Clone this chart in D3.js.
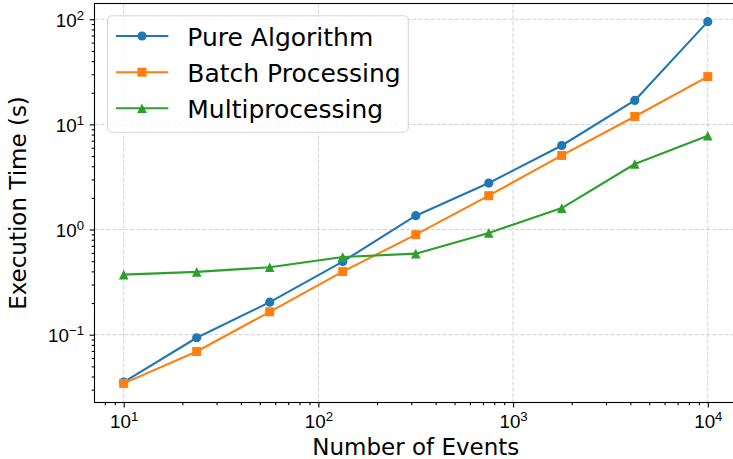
<!DOCTYPE html>
<html>
<head>
<meta charset="utf-8">
<script src="https://cdn.jsdelivr.net/npm/d3@7"></script>
<style>
  html, body { margin: 0; padding: 0; background: #fff; }
  svg { display: block; font-family: "DejaVu Sans", sans-serif; }
</style>
</head>
<body>
<svg id="chart" width="733" height="459"></svg>
<script>
// Problem sizes (number of events) and measured execution times in seconds
const events = [10, 23.71, 56.23, 133.35, 316.23, 749.89, 1778.28, 4216.97, 10000];
const pureAlgorithm   = [0.0354, 0.0935, 0.204, 0.496, 1.355, 2.77, 6.30, 16.9, 94.9];
const batchProcessing = [0.0344, 0.0692, 0.165, 0.398, 0.895, 2.10, 5.07, 11.9, 28.5];
const multiprocessing = [0.373, 0.396, 0.438, 0.549, 0.590, 0.929, 1.60, 4.20, 7.79];

const seriesNames = ["Pure Algorithm", "Batch Processing", "Multiprocessing"];
const seriesColors = ["#1f77b4", "#ff7f0e", "#2ca02c"];
const seriesMarkers = ["circle", "square", "triangle"];

const xTickValues = [10, 100, 1000, 10000];
const xTickExponents = ["1", "2", "3", "4"];
const yTickValues = [0.1, 1, 10, 100];
const yTickExponents = ["\u22121", "0", "1", "2"];

const xLabel = "Number of Events";
const yLabel = "Execution Time (s)";

// Plot frame
const plotLeft = 94.5, plotRight = 737, plotTop = 3.5, plotBottom = 402.5;

const svg = d3.select("#chart");

const x = d3.scaleLog()
  .domain([Math.pow(10, 0.85), Math.pow(10, 4.15)])
  .range([plotLeft, plotRight]);
const y = d3.scaleLog()
  .domain([Math.pow(10, -1.645), Math.pow(10, 2.15)])
  .range([plotBottom, plotTop]);

function minorTicks(scale) {
  const [a, b] = scale.domain();
  const out = [];
  for (let e = Math.floor(Math.log10(a)); e <= Math.ceil(Math.log10(b)); e++) {
    for (let m = 2; m <= 9; m++) {
      const v = m * Math.pow(10, e);
      if (v >= a && v <= b) out.push(v);
    }
  }
  return out;
}

// Grid (major ticks only, dashed)
const grid = svg.append("g").attr("class", "grid");
grid.selectAll("line.gx").data(xTickValues).join("line").attr("class", "gx")
  .attr("x1", d => x(d)).attr("x2", d => x(d))
  .attr("y1", plotTop).attr("y2", plotBottom);
grid.selectAll("line.gy").data(yTickValues).join("line").attr("class", "gy")
  .attr("x1", plotLeft).attr("x2", plotRight)
  .attr("y1", d => y(d)).attr("y2", d => y(d));
grid.selectAll("line")
  .attr("stroke", "#b0b0b0").attr("stroke-opacity", 0.6)
  .attr("stroke-width", 1).attr("stroke-dasharray", "4,2");

// Series lines and markers
const lineGen = d3.line().x(d => x(d[0])).y(d => y(d[1]));
const allSeries = [pureAlgorithm, batchProcessing, multiprocessing];

function drawMarker(g, type, cx, cy, color) {
  if (type === "circle") {
    g.append("circle").attr("cx", cx).attr("cy", cy).attr("r", 4.6).attr("fill", color);
  } else if (type === "square") {
    const s = 9;
    g.append("rect").attr("x", cx - s / 2).attr("y", cy - s / 2)
      .attr("width", s).attr("height", s).attr("fill", color);
  } else {
    const h = 4.8;
    g.append("path")
      .attr("d", `M${cx},${cy - h}L${cx + h},${cy + h}L${cx - h},${cy + h}Z`)
      .attr("fill", color);
  }
}

allSeries.forEach((vals, i) => {
  const pts = events.map((e, k) => [e, vals[k]]);
  const g = svg.append("g").attr("class", "series");
  g.append("path").datum(pts)
    .attr("d", lineGen)
    .attr("fill", "none")
    .attr("stroke", seriesColors[i])
    .attr("stroke-width", 2.1)
    .attr("stroke-linejoin", "round");
  pts.forEach(p => drawMarker(g, seriesMarkers[i], x(p[0]), y(p[1]), seriesColors[i]));
});

// Axes
const axisStyle = g => {
  g.select(".domain").remove();
  g.selectAll(".tick line").attr("stroke", "#000").attr("stroke-width", 1.1);
};

svg.append("g").attr("transform", `translate(0,${plotBottom})`)
  .call(d3.axisBottom(x).tickValues(minorTicks(x)).tickSize(2.8).tickFormat(""))
  .call(axisStyle);
svg.append("g").attr("transform", `translate(${plotLeft},0)`)
  .call(d3.axisLeft(y).tickValues(minorTicks(y)).tickSize(2.8).tickFormat(""))
  .call(axisStyle);

const xAxisG = svg.append("g").attr("transform", `translate(0,${plotBottom})`)
  .call(d3.axisBottom(x).tickValues(xTickValues).tickSize(4.9).tickFormat(""))
  .call(axisStyle);
const yAxisG = svg.append("g").attr("transform", `translate(${plotLeft},0)`)
  .call(d3.axisLeft(y).tickValues(yTickValues).tickSize(4.9).tickFormat(""))
  .call(axisStyle);

// Power-of-ten tick labels
xAxisG.selectAll(".tick").each(function (d, i) {
  const t = d3.select(this).append("text")
    .attr("x", 0).attr("y", 25.8)
    .attr("text-anchor", "middle")
    .attr("fill", "#000")
    .style("font-size", "18.8px");
  t.append("tspan").text("10");
  t.append("tspan").attr("dy", -7.5).style("font-size", "13.2px").text(xTickExponents[i]);
});
yAxisG.selectAll(".tick").each(function (d, i) {
  const t = d3.select(this).append("text")
    .attr("x", -10.5).attr("y", 7.3)
    .attr("text-anchor", "end")
    .attr("fill", "#000")
    .style("font-size", "18.8px");
  t.append("tspan").text("10");
  t.append("tspan").attr("dy", -7.5).style("font-size", "13.2px").text(yTickExponents[i]);
});

// Frame (spines)
svg.append("rect")
  .attr("x", plotLeft).attr("y", plotTop)
  .attr("width", plotRight - plotLeft).attr("height", plotBottom - plotTop)
  .attr("fill", "none").attr("stroke", "#000").attr("stroke-width", 1.1);

// Axis titles
svg.append("text")
  .attr("x", (plotLeft + plotRight) / 2).attr("y", 455)
  .attr("text-anchor", "middle")
  .style("font-size", "23px")
  .text(xLabel);
svg.append("text")
  .attr("transform", `translate(26,${(plotTop + plotBottom) / 2}) rotate(-90)`)
  .attr("text-anchor", "middle")
  .style("font-size", "23px")
  .text(yLabel);

// Legend
const legend = svg.append("g").attr("class", "legend");
legend.append("rect")
  .attr("x", 107.5).attr("y", 15.8)
  .attr("width", 300.8).attr("height", 116.5)
  .attr("rx", 4.5).attr("ry", 4.5)
  .attr("fill", "#fff").attr("fill-opacity", 0.8)
  .attr("stroke", "#d6d6d6").attr("stroke-width", 1.1);

const rowY = [36, 72.2, 108.3];
seriesNames.forEach((name, i) => {
  const g = legend.append("g");
  g.append("line")
    .attr("x1", 116).attr("x2", 168.3)
    .attr("y1", rowY[i]).attr("y2", rowY[i])
    .attr("stroke", seriesColors[i]).attr("stroke-width", 2.1);
  drawMarker(g, seriesMarkers[i], 142, rowY[i], seriesColors[i]);
  g.append("text")
    .attr("x", 187.3).attr("y", rowY[i] + 9.6)
    .style("font-size", "25px")
    .text(name);
});
</script>
</body>
</html>
